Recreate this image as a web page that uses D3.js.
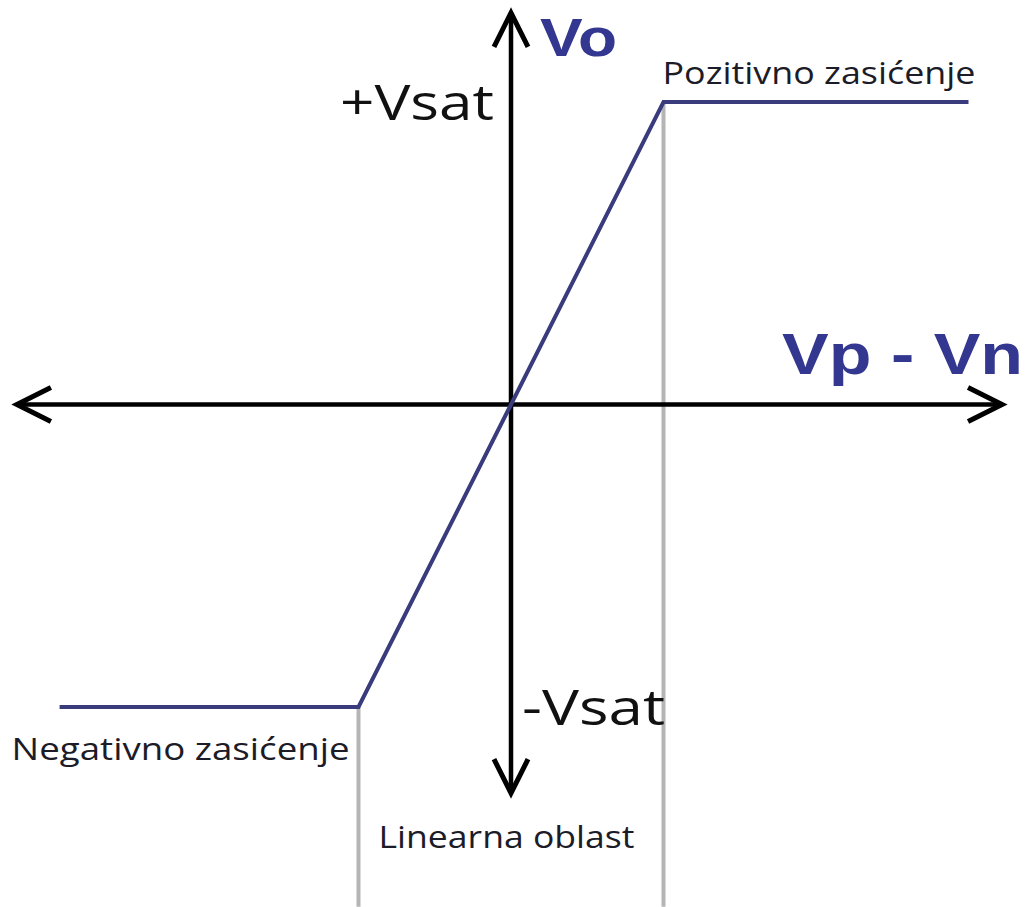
<!DOCTYPE html>
<html>
<head>
<meta charset="utf-8">
<script src="https://cdn.jsdelivr.net/npm/d3@7"></script>
<style>
  body { margin: 0; background: #fff; }
  svg { display: block; }
</style>
</head>
<body>
<div id="chart"></div>
<script>
// transfer characteristic (units: Vsat = 1, linear range edge = 1)
var curveX = [-2.96, -1, 1, 3];
var curveY = [-1, -1, 1, 1];
// extent of the drawn axes
var axisX = [-3.24, 3.22];
var axisY = [-1.285, 1.295];
// limits of the linear region (grey guides)
var guideX = [-1, 1];
var guideY = [-1, 1];
var guideBottom = -1.66;

var outwidth = 1029, outheight = 907;
var blue = "#3a3b7c";
var labelBlue = "#34378f";

var svg = d3.select("#chart")
    .append("svg")
    .attr("width", outwidth)
    .attr("height", outheight);

var x = d3.scaleLinear().domain([-1, 1]).range([358.5, 663.5]);
var y = d3.scaleLinear().domain([-1, 1]).range([707, 102]);

// grey guides of the linear region
svg.selectAll(".guide")
    .data(guideX)
    .join("line")
    .attr("class", "guide")
    .attr("x1", d => x(d))
    .attr("x2", d => x(d))
    .attr("y1", (d, i) => y(guideY[i]))
    .attr("y2", y(guideBottom))
    .attr("stroke", "#b5b5b5")
    .attr("stroke-width", 4);

// axes
var axes = svg.append("g").attr("class", "axes");
axes.append("line")
    .attr("x1", x(axisX[0])).attr("x2", x(axisX[1]))
    .attr("y1", y(0)).attr("y2", y(0))
    .attr("stroke", "#000").attr("stroke-width", 4.5);
axes.append("line")
    .attr("x1", x(0)).attr("x2", x(0))
    .attr("y1", y(axisY[0])).attr("y2", y(axisY[1]))
    .attr("stroke", "#000").attr("stroke-width", 4.5);

// open arrow heads
var heads = [
    { px: x(axisX[0]), py: y(0), a: 180 },
    { px: x(axisX[1]), py: y(0), a: 0 },
    { px: x(0), py: y(axisY[1]), a: -90 },
    { px: x(0), py: y(axisY[0]), a: 90 }
];
axes.selectAll(".head")
    .data(heads)
    .join("path")
    .attr("class", "head")
    .attr("transform", d => `translate(${d.px},${d.py}) rotate(${d.a})`)
    .attr("d", "M-34,-17L0,0L-34,17")
    .attr("fill", "none")
    .attr("stroke", "#000")
    .attr("stroke-width", 5)
    .attr("stroke-linejoin", "miter");

// transfer curve
var line = d3.line()
    .x(d => x(d[0]))
    .y(d => y(d[1]));
svg.append("path")
    .datum(d3.zip(curveX, curveY))
    .attr("d", line)
    .attr("fill", "none")
    .attr("stroke", blue)
    .attr("stroke-width", 4)
    .attr("stroke-linejoin", "miter");

// labels
var labels = [
    { t: "Vo", px: x(0) + 29, py: y(axisY[1]) + 43, size: 54, bold: true, w: 77, c: labelBlue },
    { t: "Vp - Vn", px: x(axisX[1]) - 220, py: y(0) - 31, size: 58, bold: true, w: 241, c: labelBlue },
    { t: "+Vsat", px: x(0) - 171, py: y(1) + 18, size: 50, w: 154, c: "#111" },
    { t: "-Vsat", px: x(0) + 11, py: y(-1) + 18, size: 50, w: 143, c: "#111" },
    { t: "Pozitivno zasićenje", px: x(1) - 1, py: y(1) - 18, size: 31, w: 313, c: "#1c1c28" },
    { t: "Negativno zasićenje", px: x(curveX[0]) - 48, py: y(-1) + 53, size: 31, w: 338, c: "#1c1c28" },
    { t: "Linearna oblast", px: x(-1) + 20, py: y(guideBottom) - 59, size: 31, w: 256, c: "#1c1c28" }
];
svg.selectAll(".lbl")
    .data(labels)
    .join("text")
    .attr("class", "lbl")
    .attr("x", d => d.px)
    .attr("y", d => d.py)
    .attr("font-family", d => d.bold ? "'Liberation Sans', Arial, sans-serif" : "'Open Sans', 'Noto Sans', sans-serif")
    .attr("font-weight", d => d.bold ? "bold" : "normal")
    .attr("font-size", d => d.size)
    .attr("fill", d => d.c)
    .attr("textLength", d => d.w)
    .attr("lengthAdjust", "spacingAndGlyphs")
    .text(d => d.t);
</script>
</body>
</html>
